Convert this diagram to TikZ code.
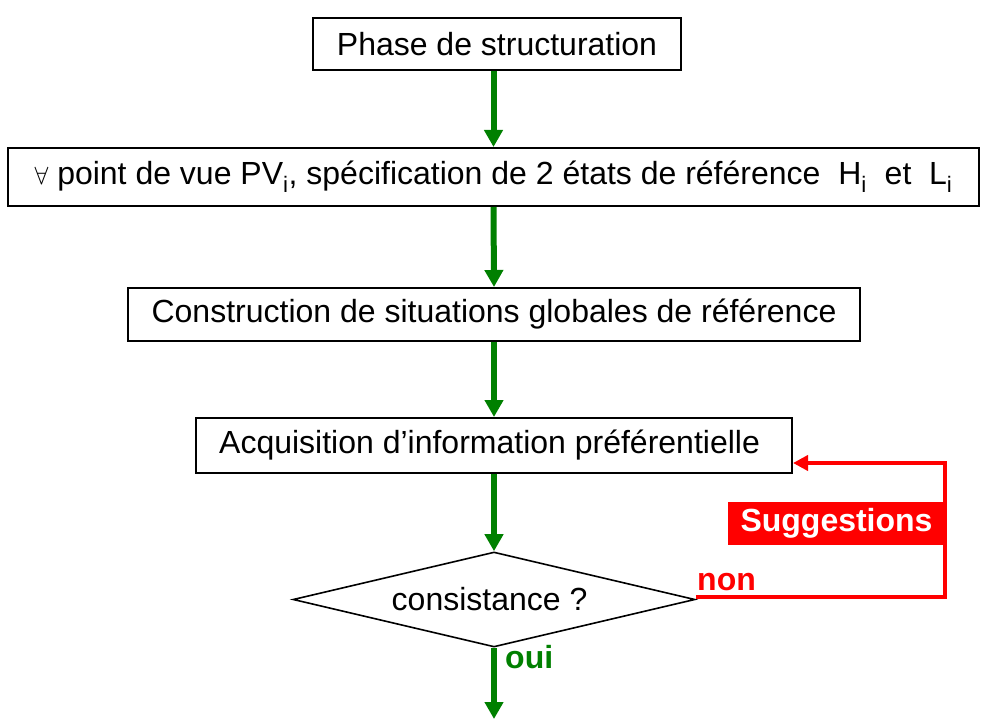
\documentclass[tikz,border=0pt]{standalone}
\usepackage{fontspec}
\setmainfont{Liberation Sans}
\usetikzlibrary{shapes.geometric,arrows.meta}
\definecolor{fgreen}{RGB}{0,128,0}
\definecolor{fred}{RGB}{255,0,0}
\tikzset{
  box/.style={draw=black,line width=2pt,fill=white,inner sep=0pt,font=\fontsize{32}{38}\selectfont},
  dec/.style={draw=black,line width=1.6pt,diamond,inner sep=0pt,font=\fontsize{32}{38}\selectfont},
  garrow/.style={draw=fgreen,line width=6pt,-{Triangle[width=18pt,length=17pt]}},
  rarrow/.style={draw=fred,line width=4.5pt,-{Triangle[width=15pt,length=15pt]}},
  redlab/.style={text=fred,font=\fontsize{32}{38}\selectfont\bfseries,inner sep=0pt},
  greenlab/.style={text=fgreen,font=\fontsize{32}{38}\selectfont\bfseries,inner sep=0pt},
  sugbox/.style={fill=fred,text=white,font=\fontsize{32}{38}\selectfont\bfseries,inner sep=0pt}
}
\begin{document}
\begin{tikzpicture}[x=1pt,y=-1pt]
\useasboundingbox (0,0) rectangle (981,719);
\node[box,minimum width=368pt,minimum height=52pt] (b1) at (497,44) {Phase de structuration};
\node[box,minimum width=971pt,minimum height=58pt] (b2) at (493.5,177) {$\forall$ point de vue PV\textsubscript{i}, spécification de 2 états de référence ~H\textsubscript{i} ~et ~L\textsubscript{i}};
\node[box,minimum width=732pt,minimum height=53pt] (b3) at (494,314.5) {Construction de situations globales de référence};
\node[box,minimum width=596pt,minimum height=55pt] (b4) at (494,445.5) {Acquisition d’information préférentielle~~};
\node[dec,minimum width=402pt,minimum height=95pt,aspect=4.23] (d) at (494,599.5) {consistance ?~~};
\coordinate (end) at (494,719);
\coordinate (rb) at (945,597);
\coordinate (rt) at (945,463);
\draw[garrow] (b1.south -| b2.north) -- (b2.north);
\draw[garrow] (b2.south) -- (b3.north);
\draw[garrow] (b3.south) -- (b4.north);
\draw[garrow] (b4.south) -- (d.north);
\draw[garrow] (d.south) -- (end);
\draw[rarrow] (d.east |- rb) -- (rb) -- (rt) -- (rt -| b4.east);
\node[sugbox,minimum width=217pt,minimum height=43pt] (sug) at (836.5,523.5) {Suggestions};
\node[redlab,anchor=base west] (non) at (697,590) {non};
\node[greenlab,anchor=base west] (oui) at (505,668) {oui};
\end{tikzpicture}
\end{document}
